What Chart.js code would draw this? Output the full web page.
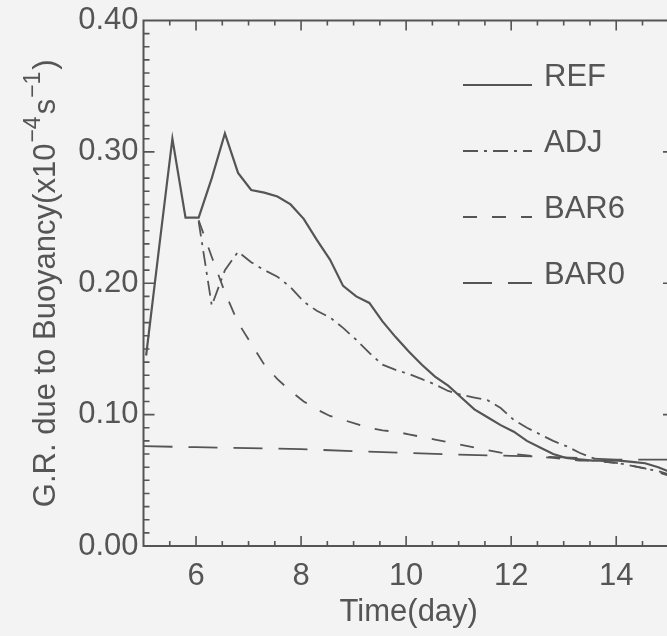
<!DOCTYPE html>
<html>
<head>
<meta charset="utf-8">
<script src="https://cdn.jsdelivr.net/npm/chart.js@4/dist/chart.umd.min.js"></script>
<style>
  html, body { margin: 0; padding: 0; background: #f3f3f3; overflow: hidden; }
  #wrap { position: relative; width: 690px; height: 636px; }
</style>
</head>
<body>
<div id="wrap"><canvas id="chart" width="690" height="636"></canvas></div>
<script>
// Growth rate due to buoyancy for four experiments (units: 1e-4 s^-1)
const days = [5.05, 5.30, 5.55, 5.80, 6.05, 6.30, 6.55, 6.80, 7.05, 7.30, 7.55, 7.80, 8.05, 8.30,
              8.55, 8.80, 9.05, 9.30, 9.55, 9.80, 10.05, 10.30, 10.55, 10.80, 11.05, 11.30, 11.55,
              11.80, 12.05, 12.30, 12.55, 12.80, 13.05, 13.30, 13.55, 13.80, 14.05, 14.30, 14.55,
              14.80, 15.05];
const refValues = [0.145, 0.228, 0.310, 0.250, 0.250, 0.280, 0.314, 0.284, 0.271, 0.269, 0.266,
                   0.260, 0.249, 0.233, 0.218, 0.198, 0.190, 0.185, 0.171, 0.159, 0.148, 0.138,
                   0.129, 0.122, 0.113, 0.104, 0.098, 0.092, 0.087, 0.080, 0.075, 0.070, 0.067,
                   0.066, 0.065, 0.065, 0.065, 0.064, 0.063, 0.060, 0.056];

// ADJ and BAR6 branch off the reference run on day 6
const branchDays = days.slice(4);
const adjValues = [0.247, 0.183, 0.210, 0.224, 0.216, 0.210, 0.205, 0.197, 0.186, 0.179, 0.174,
                   0.166, 0.157, 0.147, 0.138, 0.134, 0.131, 0.127, 0.123, 0.118, 0.115, 0.113,
                   0.111, 0.105, 0.096, 0.090, 0.085, 0.080, 0.076, 0.071, 0.067, 0.064, 0.063,
                   0.061, 0.059, 0.057, 0.054];
const bar6Values = [0.248, 0.220, 0.193, 0.170, 0.154, 0.138, 0.127, 0.118, 0.110, 0.104, 0.099,
                    0.096, 0.093, 0.090, 0.088, 0.087, 0.085, 0.083, 0.081, 0.079, 0.077, 0.075,
                    0.073, 0.071, 0.070, 0.069, 0.068, 0.067, 0.066, 0.065, 0.065, 0.064, 0.063,
                    0.061, 0.059, 0.056, 0.053];

// BAR0 run, sampled daily
const bar0Days = [5, 6, 7, 8, 9, 10, 11, 12, 13, 14, 15, 15.1];
const bar0Values = [0.076, 0.0752, 0.0745, 0.0737, 0.0722, 0.0708, 0.0695, 0.0686, 0.0675, 0.0657, 0.0658, 0.0658];

const seriesNames = ['REF', 'ADJ', 'BAR6', 'BAR0'];
const xRange = [5, 15.1];
const xTickValues = [6, 8, 10, 12, 14];
const yTickValues = [0.0, 0.1, 0.2, 0.3, 0.4];
const yTickLabels = ['0.00', '0.10', '0.20', '0.30', '0.40'];

const INK = '#555555';
const FONT = '"Liberation Sans", Arial, Helvetica, sans-serif';

const pairs = (xs, ys) => xs.map((x, i) => ({ x, y: ys[i] }));

// Box frame with inward major/minor ticks on all four sides
const framePlugin = {
  id: 'frame',
  afterDatasetsDraw(chart) {
    const { ctx, chartArea: a, scales: { x, y } } = chart;
    ctx.save();
    ctx.strokeStyle = INK;
    ctx.setLineDash([]);
    ctx.lineWidth = 2;
    ctx.strokeRect(a.left, a.top, a.right - a.left, a.bottom - a.top);
    ctx.lineWidth = 1.6;
    ctx.beginPath();
    for (let k = 11; k <= 30; k++) {
      const v = k / 2;
      const px = x.getPixelForValue(v);
      const len = (k % 4 === 0) ? 10 : 5;
      ctx.moveTo(px, a.bottom); ctx.lineTo(px, a.bottom - len);
      ctx.moveTo(px, a.top); ctx.lineTo(px, a.top + len);
    }
    for (let k = 1; k < 40; k++) {
      const py = y.getPixelForValue(k / 100);
      const len = (k % 10 === 0) ? 11 : 6;
      ctx.moveTo(a.left, py); ctx.lineTo(a.left + len, py);
      ctx.moveTo(a.right, py); ctx.lineTo(a.right - len, py);
    }
    ctx.stroke();
    ctx.restore();
  }
};

// Line-sample legend in the upper right of the plot
const legendPlugin = {
  id: 'lineLegend',
  afterDraw(chart) {
    const { ctx } = chart;
    ctx.save();
    chart.data.datasets.forEach((ds, i) => {
      const yy = 85 + i * 66;
      ctx.strokeStyle = ds.borderColor;
      ctx.lineWidth = ds.borderWidth;
      ctx.setLineDash(ds.borderDash || []);
      ctx.beginPath();
      ctx.moveTo(463, yy);
      ctx.lineTo(532, yy);
      ctx.stroke();
      ctx.setLineDash([]);
      ctx.fillStyle = INK;
      ctx.font = '31px ' + FONT;
      ctx.textAlign = 'left';
      ctx.textBaseline = 'alphabetic';
      ctx.fillText(ds.label, 544, yy + 1);
    });
    ctx.restore();
  }
};

// Rotated y-axis title with superscript exponents
const yTitlePlugin = {
  id: 'yTitle',
  afterDraw(chart) {
    const { ctx, chartArea: a } = chart;
    const parts = [
      { t: 'G.R. due to Buoyancy(x10', size: 31, rise: 0, gap: 1 },
      { t: '\u22124', size: 23, rise: 15, gap: 2 },
      { t: 's', size: 31, rise: 0, gap: 1 },
      { t: '\u22121', size: 23, rise: 15, gap: 2 },
      { t: ')', size: 31, rise: 0, gap: 0 }
    ];
    ctx.save();
    let total = 0;
    parts.forEach(p => {
      ctx.font = p.size + 'px ' + FONT;
      p.w = ctx.measureText(p.t).width;
      total += p.w + p.gap;
    });
    ctx.translate(55, (a.top + a.bottom) / 2);
    ctx.rotate(-Math.PI / 2);
    ctx.fillStyle = INK;
    ctx.textAlign = 'left';
    ctx.textBaseline = 'alphabetic';
    let cx = -total / 2;
    parts.forEach(p => {
      ctx.font = p.size + 'px ' + FONT;
      ctx.fillText(p.t, cx, -p.rise);
      cx += p.w + p.gap;
    });
    ctx.restore();
  }
};

const lineStyle = { borderColor: INK, pointRadius: 0, tension: 0, fill: false };

new Chart(document.getElementById('chart'), {
  type: 'line',
  data: {
    datasets: [
      { ...lineStyle, label: seriesNames[0], data: pairs(days, refValues), borderWidth: 2.2 },
      { ...lineStyle, label: seriesNames[1], data: pairs(branchDays, adjValues), borderWidth: 1.8, borderDash: [15, 6, 3, 6] },
      { ...lineStyle, label: seriesNames[2], data: pairs(branchDays, bar6Values), borderWidth: 1.8, borderDash: [14, 15] },
      { ...lineStyle, label: seriesNames[3], data: pairs(bar0Days, bar0Values), borderWidth: 1.8, borderDash: [29, 16] }
    ]
  },
  options: {
    responsive: false,
    animation: false,
    devicePixelRatio: 1,
    layout: { padding: { left: 0, top: 15, right: 16, bottom: 0 } },
    plugins: { legend: { display: false }, tooltip: { enabled: false } },
    scales: {
      x: {
        type: 'linear',
        min: xRange[0],
        max: xRange[1],
        grid: { display: false, drawTicks: false },
        border: { display: false },
        afterBuildTicks: s => { s.ticks = xTickValues.map(v => ({ value: v })); },
        afterFit: s => { s.height = 90; },
        ticks: {
          color: INK,
          padding: 12,
          maxRotation: 0,
          font: { family: FONT, size: 31 },
          callback: v => String(v)
        },
        title: {
          display: true,
          text: 'Time(day)',
          color: INK,
          padding: { top: 0, bottom: 5 },
          font: { family: FONT, size: 31 }
        }
      },
      y: {
        min: 0,
        max: 0.4,
        grid: { display: false, drawTicks: false },
        border: { display: false },
        afterBuildTicks: s => { s.ticks = yTickValues.map(v => ({ value: v })); },
        afterFit: s => { s.width = 143.5; },
        ticks: {
          color: INK,
          padding: 5,
          font: { family: FONT, size: 31, lineHeight: 1 },
          callback: (v, i) => yTickLabels[i]
        }
      }
    }
  },
  plugins: [framePlugin, legendPlugin, yTitlePlugin]
});
</script>
</body>
</html>
